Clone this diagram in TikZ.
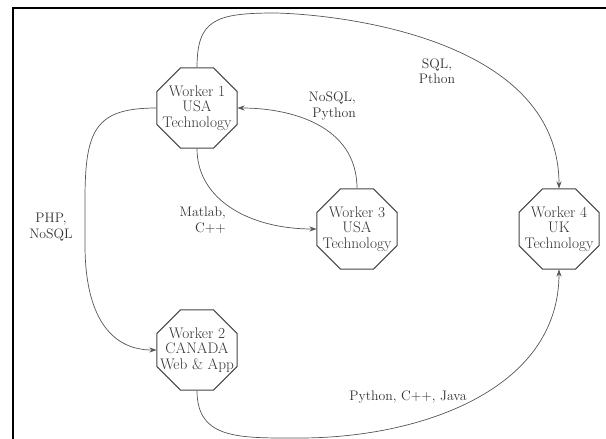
\documentclass[tikz,border=0pt]{standalone}
\usetikzlibrary{shapes.geometric,arrows.meta}
\definecolor{edgegray}{HTML}{555555}
\definecolor{nodegray}{HTML}{444444}
\definecolor{txtgray}{HTML}{333333}
\begin{document}
\begin{tikzpicture}[x=1pt,y=-1pt,
  every node/.style={font=\fontsize{13.8}{15.5}\selectfont, text=txtgray},
  worker/.style={draw=nodegray, line width=1pt, regular polygon, regular polygon sides=8,
    minimum size=86.6pt, inner sep=0pt},
  wtext/.style={align=center, inner sep=0pt, font=\fontsize{15.3}{15.5}\selectfont},
  conn/.style={draw=edgegray, line width=0.7pt, -{Stealth[length=7pt,width=5pt]}},
  elabel/.style={inner sep=0pt}
]
\useasboundingbox (0,0) rectangle (606,439);
% frame
\draw[black, line width=1.2pt] (13,439) -- (13,8) -- (606,8);

% nodes
\node[worker] (w1) at (197,108) {};
\node[wtext] (t1) at (w1.center) {Worker 1\\USA\\Technology};
\node[worker] (w3) at (357,229) {};
\node[wtext] (t3) at (w3.center) {Worker 3\\USA\\Technology};
\node[worker] (w4) at (559,229) {};
\node[wtext] (t4) at (w4.center) {Worker 4\\UK\\Technology};
\node[worker] (w2) at (197,350) {};
\node[wtext] (t2) at (w2.center) {Worker 2\\CANADA\\Web \& App};

% connectors
\draw[conn] (w1.north) .. controls (197,20) and (215,13) .. (275,13)
  .. controls (330,14) and (559,35) .. (w4.north);
\draw[conn] (w3.north) .. controls (357,125) and (290,108) .. (w1.east);
\draw[conn] (w1.south) .. controls (197,200) and (250,229) .. (w3.west);
\draw[conn] (w1.west) .. controls (95,108) and (85,130) .. (85,200)
  -- (85,245) .. controls (85,315) and (110,350) .. (w2.west);
\draw[conn] (w2.south) .. controls (197,440) and (240,438) .. (300,438)
  .. controls (420,438) and (559,390) .. (w4.south);

% labels
\node[elabel, align=center] (l1) at (437,71) {SQL,\\Pthon};
\node[elabel, align=right, anchor=east] (l2) at (356,106) {NoSQL,\\Python};
\node[elabel, align=right, anchor=east] (l3) at (226,220) {Matlab,\\C++};
\node[elabel, align=center] (l4) at (51,227) {PHP,\\NoSQL};
\node[elabel] (l5) at (408,397) {Python, C++, Java};
\end{tikzpicture}
\end{document}
